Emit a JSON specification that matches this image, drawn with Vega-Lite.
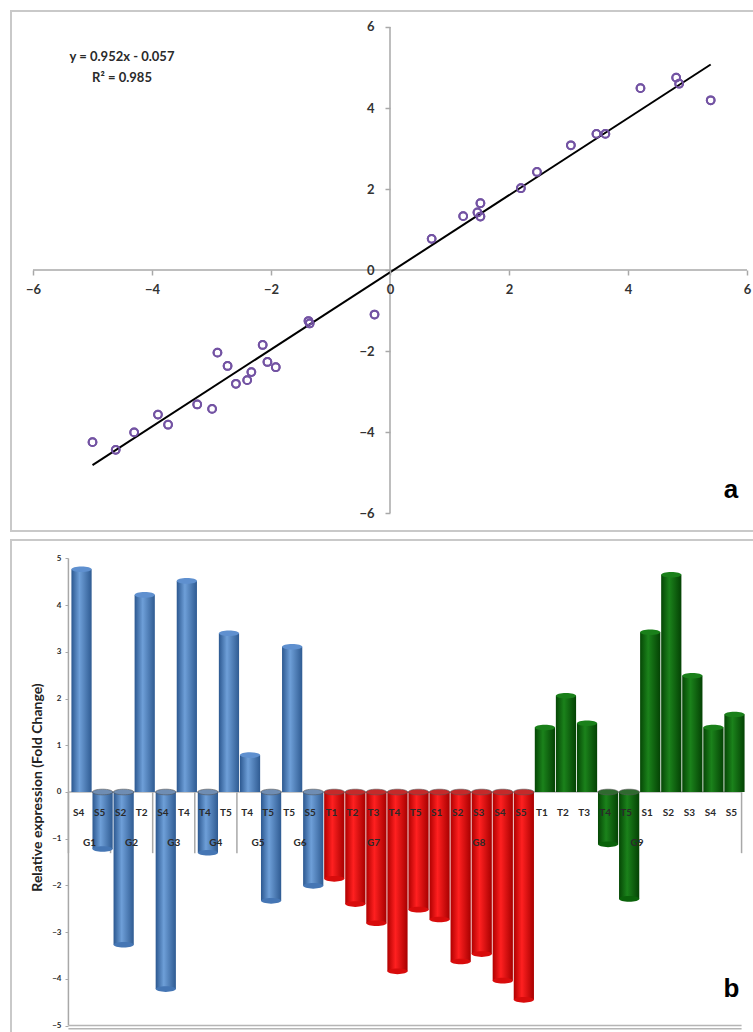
{
  "$schema": "https://vega.github.io/schema/vega-lite/v6.json",
  "padding": {"left": 10, "top": 10, "right": 0, "bottom": 0},
  "background": "white",
  "config": {
    "font": "Lato",
    "view": {"stroke": "#c9c9c9", "strokeWidth": 2},
    "axis": {"labelFont": "Lato", "titleFont": "Lato", "grid": false}
  },
  "datasets": {
    "points": [
      {"x": -5.00, "y": -4.25}, {"x": -4.61, "y": -4.44}, {"x": -4.30, "y": -4.01},
      {"x": -3.90, "y": -3.57}, {"x": -3.73, "y": -3.82}, {"x": -3.24, "y": -3.32},
      {"x": -2.99, "y": -3.43}, {"x": -2.90, "y": -2.04}, {"x": -2.73, "y": -2.37},
      {"x": -2.59, "y": -2.81}, {"x": -2.40, "y": -2.72}, {"x": -2.33, "y": -2.52},
      {"x": -2.14, "y": -1.85}, {"x": -2.06, "y": -2.27}, {"x": -1.92, "y": -2.40},
      {"x": -1.37, "y": -1.26}, {"x": -1.35, "y": -1.32}, {"x": -0.26, "y": -1.10},
      {"x": 0.70, "y": 0.77}, {"x": 1.23, "y": 1.33}, {"x": 1.47, "y": 1.42},
      {"x": 1.52, "y": 1.65}, {"x": 1.52, "y": 1.32}, {"x": 2.20, "y": 2.02},
      {"x": 2.47, "y": 2.42}, {"x": 3.04, "y": 3.08}, {"x": 3.47, "y": 3.36},
      {"x": 3.62, "y": 3.36}, {"x": 4.21, "y": 4.49}, {"x": 4.81, "y": 4.75},
      {"x": 4.86, "y": 4.60}, {"x": 5.39, "y": 4.19}
    ],
    "fit": [{"x": -5.0, "y": -4.817}, {"x": 5.39, "y": 5.074}],
    "bars": [
      {"key": "G1|S4", "group": "G1", "value": 4.77},
      {"key": "G1|S5", "group": "G1", "value": -1.22},
      {"key": "G2|S2", "group": "G2", "value": -3.27},
      {"key": "G2|T2", "group": "G2", "value": 4.22},
      {"key": "G3|S4", "group": "G3", "value": -4.22},
      {"key": "G3|T4", "group": "G3", "value": 4.52},
      {"key": "G4|T4", "group": "G4", "value": -1.30},
      {"key": "G4|T5", "group": "G4", "value": 3.40},
      {"key": "G5|T4", "group": "G5", "value": 0.79},
      {"key": "G5|T5", "group": "G5", "value": -2.33},
      {"key": "G6|T5", "group": "G6", "value": 3.11},
      {"key": "G6|S5", "group": "G6", "value": -2.01},
      {"key": "G7|T1", "group": "G7", "value": -1.86},
      {"key": "G7|T2", "group": "G7", "value": -2.40},
      {"key": "G7|T3", "group": "G7", "value": -2.81},
      {"key": "G7|T4", "group": "G7", "value": -3.84},
      {"key": "G7|T5", "group": "G7", "value": -2.52},
      {"key": "G8|S1", "group": "G8", "value": -2.73},
      {"key": "G8|S2", "group": "G8", "value": -3.63},
      {"key": "G8|S3", "group": "G8", "value": -3.47},
      {"key": "G8|S4", "group": "G8", "value": -4.04},
      {"key": "G8|S5", "group": "G8", "value": -4.45},
      {"key": "G9|T1", "group": "G9", "value": 1.38},
      {"key": "G9|T2", "group": "G9", "value": 2.06},
      {"key": "G9|T3", "group": "G9", "value": 1.47},
      {"key": "G9|T4", "group": "G9", "value": -1.12},
      {"key": "G9|T5", "group": "G9", "value": -2.29},
      {"key": "G9|S1", "group": "G9", "value": 3.42},
      {"key": "G9|S2", "group": "G9", "value": 4.65},
      {"key": "G9|S3", "group": "G9", "value": 2.49},
      {"key": "G9|S4", "group": "G9", "value": 1.38},
      {"key": "G9|S5", "group": "G9", "value": 1.66}
    ],
    "groups": [
      {"group": "G1", "first": "G1|S4", "anchor": "G1|S5"},
      {"group": "G2", "first": "G2|S2", "anchor": "G2|T2"},
      {"group": "G3", "first": "G3|S4", "anchor": "G3|T4"},
      {"group": "G4", "first": "G4|T4", "anchor": "G4|T5"},
      {"group": "G5", "first": "G5|T4", "anchor": "G5|T5"},
      {"group": "G6", "first": "G6|T5", "anchor": "G6|S5"},
      {"group": "G7", "first": "G7|T1", "anchor": "G7|T3"},
      {"group": "G8", "first": "G8|S1", "anchor": "G8|S3"},
      {"group": "G9", "first": "G9|T1", "anchor": "G9|S1"}
    ]
  },
  "spacing": 9,
  "bounds": "flush",
  "vconcat": [
    {
      "width": 743,
      "height": 520,
      "layer": [
        {
          "data": {"name": "points"},
          "mark": {"type": "point", "shape": "circle", "filled": false, "stroke": "#7353a3", "strokeWidth": 2, "size": 60, "opacity": 1},
          "encoding": {
            "x": {"field": "x", "type": "quantitative", "title": null,
              "scale": {"domain": [-6.37, 6.118], "nice": false, "zero": false},
              "axis": {"orient": "bottom", "offset": -261, "values": [-6, -4, -2, 0, 2, 4, 6], "format": "d", "domain": false, "tickSize": 5, "tickColor": "#a8a8a8", "tickWidth": 1.5, "labelPadding": 8, "labelFontWeight": "bold", "labelFontSize": 13, "labelColor": "#333333", "labelFlush": false, "labelOverlap": false, "title": null, "zindex": 1}},
            "y": {"field": "y", "type": "quantitative", "title": null,
              "scale": {"domain": [-6.444, 6.395], "nice": false, "zero": false},
              "axis": {"orient": "left", "offset": -379, "values": [-6, -4, -2, 0, 2, 4, 6], "format": "d", "domain": false, "tickSize": 5, "tickColor": "#a8a8a8", "tickWidth": 1.5, "labelPadding": 11, "labelFontWeight": "bold", "labelFontSize": 13, "labelColor": "#333333", "labelFlush": false, "labelOverlap": false, "title": null, "zindex": 1}}
          }
        },
        {
          "data": {"values": [{}]},
          "mark": {"type": "rule", "color": "#a8a8a8", "strokeWidth": 1.5},
          "encoding": {
            "x": {"datum": -6, "type": "quantitative"},
            "x2": {"datum": 6},
            "y": {"datum": 0, "type": "quantitative"}
          }
        },
        {
          "data": {"values": [{}]},
          "mark": {"type": "rule", "color": "#a8a8a8", "strokeWidth": 1.5},
          "encoding": {
            "y": {"datum": -6, "type": "quantitative"},
            "y2": {"datum": 6},
            "x": {"datum": 0, "type": "quantitative"}
          }
        },
        {
          "data": {"name": "fit"},
          "mark": {"type": "line", "color": "#000000", "strokeWidth": 2},
          "encoding": {
            "x": {"field": "x", "type": "quantitative"},
            "y": {"field": "y", "type": "quantitative"}
          }
        },
        {
          "data": {"name": "points"},
          "mark": {"type": "point", "shape": "circle", "filled": false, "stroke": "#7353a3", "strokeWidth": 2, "size": 60, "opacity": 1},
          "encoding": {
            "x": {"field": "x", "type": "quantitative"},
            "y": {"field": "y", "type": "quantitative"}
          }
        },
        {
          "data": {"values": [{"t": "y = 0.952x - 0.057"}]},
          "mark": {"type": "text", "font": "Lato", "fontWeight": "bold", "fontSize": 13, "color": "#2a2a2a", "align": "center", "baseline": "middle"},
          "encoding": {
            "x": {"datum": -4.504, "type": "quantitative"},
            "y": {"datum": 5.259, "type": "quantitative"},
            "text": {"field": "t"}
          }
        },
        {
          "data": {"values": [{"t": "R² = 0.985"}]},
          "mark": {"type": "text", "font": "Lato", "fontWeight": "bold", "fontSize": 13, "color": "#2a2a2a", "align": "center", "baseline": "middle"},
          "encoding": {
            "x": {"datum": -4.504, "type": "quantitative"},
            "y": {"datum": 4.741, "type": "quantitative"},
            "text": {"field": "t"}
          }
        },
        {
          "data": {"values": [{"t": "a"}]},
          "mark": {"type": "text", "font": "Liberation Sans", "fontWeight": "bold", "fontSize": 26, "color": "#000000", "align": "center", "baseline": "alphabetic"},
          "encoding": {
            "x": {"datum": 5.73, "type": "quantitative"},
            "y": {"datum": -5.63, "type": "quantitative"},
            "text": {"field": "t"}
          }
        }
      ]
    },
    {
      "width": 743,
      "height": 494,
      "resolve": {"scale": {"color": "independent"}},
      "layer": [
        {
          "data": {"name": "groups"},
          "mark": {"type": "rule", "color": "#a8a8a8", "strokeWidth": 1.5},
          "encoding": {
            "x": {"field": "first", "type": "nominal", "bandPosition": 0, "title": null,
              "scale": {"type": "band",
                "domain": ["G1|S4","G1|S5","G2|S2","G2|T2","G3|S4","G3|T4","G4|T4","G4|T5","G5|T4","G5|T5","G6|T5","G6|S5","G7|T1","G7|T2","G7|T3","G7|T4","G7|T5","G8|S1","G8|S2","G8|S3","G8|S4","G8|S5","G9|T1","G9|T2","G9|T3","G9|T4","G9|T5","G9|S1","G9|S2","G9|S3","G9|S4","G9|S5"],
                "range": [57, 731], "paddingInner": 0.04, "paddingOuter": 0.02, "align": 0.5},
              "axis": {"orient": "bottom", "offset": -242, "domain": false, "ticks": false, "labelAngle": 0, "labelPadding": 15, "labelFontSize": 10, "labelFontWeight": "bold", "labelColor": "#2a2a2a", "labelExpr": "split(datum.value, '|')[1]", "labelOverlap": false, "title": null, "zindex": 1}},
            "y": {"datum": 0, "type": "quantitative", "title": "Relative expression (Fold Change)",
              "scale": {"domain": [-5.182, 5.396], "nice": false, "zero": false},
              "axis": {"orient": "left", "offset": -57, "values": [-5, -4, -3, -2, -1, 0, 1, 2, 3, 4, 5], "format": "d", "domain": false, "tickSize": 3, "tickColor": "#a8a8a8", "labelFontSize": 8, "labelFontWeight": "bold", "labelColor": "#2a2a2a", "labelPadding": 4, "labelFlush": false, "labelOverlap": false, "title": "Relative expression (Fold Change)", "titleFontSize": 14, "titleFontWeight": "bold", "titleColor": "#222222", "titlePadding": 7, "zindex": 1}},
            "y2": {"datum": -1.31}
          }
        },
        {
          "data": {"values": [{}]},
          "mark": {"type": "rule", "color": "#a8a8a8", "strokeWidth": 1.5},
          "encoding": {
            "x": {"datum": "G9|S5", "type": "nominal", "bandPosition": 1},
            "y": {"datum": 0, "type": "quantitative"},
            "y2": {"datum": -1.31}
          }
        },
        {
          "data": {"values": [{}]},
          "mark": {"type": "rule", "color": "#a8a8a8", "strokeWidth": 1.5},
          "encoding": {
            "x": {"datum": "G1|S4", "type": "nominal", "bandPosition": 0},
            "y": {"datum": 5, "type": "quantitative"},
            "y2": {"datum": -5}
          }
        },
        {
          "data": {"values": [{"lvl": 0}, {"lvl": -5}, {"lvl": -5.07}]},
          "mark": {"type": "rule", "color": "#b5b5b5", "strokeWidth": 1.5},
          "encoding": {
            "x": {"datum": "G1|S4", "type": "nominal", "bandPosition": 0},
            "x2": {"datum": "G9|S5", "bandPosition": 1},
            "y": {"field": "lvl", "type": "quantitative"}
          }
        },
        {
          "data": {"name": "bars"},
          "transform": [{"filter": {"field": "group", "oneOf": ["G1", "G2", "G3", "G4", "G5", "G6"]}}],
          "mark": {"type": "bar", "xOffset": 3,
            "fill": {"gradient": "linear", "x1": 0, "x2": 1, "y1": 0, "y2": 0,
              "stops": [{"offset": 0, "color": "#2c5890"}, {"offset": 0.4, "color": "#6e9fd8"}, {"offset": 1, "color": "#2f5b92"}]}},
          "encoding": {
            "x": {"field": "key", "type": "nominal"},
            "y": {"field": "value", "type": "quantitative"}
          }
        },
        {
          "data": {"name": "bars"},
          "transform": [{"filter": {"field": "group", "oneOf": ["G7", "G8"]}}],
          "mark": {"type": "bar", "xOffset": 3,
            "fill": {"gradient": "linear", "x1": 0, "x2": 1, "y1": 0, "y2": 0,
              "stops": [{"offset": 0, "color": "#b00000"}, {"offset": 0.4, "color": "#ff2020"}, {"offset": 1, "color": "#a80000"}]}},
          "encoding": {
            "x": {"field": "key", "type": "nominal"},
            "y": {"field": "value", "type": "quantitative"}
          }
        },
        {
          "data": {"name": "bars"},
          "transform": [{"filter": {"field": "group", "oneOf": ["G9"]}}],
          "mark": {"type": "bar", "xOffset": 3,
            "fill": {"gradient": "linear", "x1": 0, "x2": 1, "y1": 0, "y2": 0,
              "stops": [{"offset": 0, "color": "#054705"}, {"offset": 0.4, "color": "#1b821b"}, {"offset": 1, "color": "#044204"}]}},
          "encoding": {
            "x": {"field": "key", "type": "nominal"},
            "y": {"field": "value", "type": "quantitative"}
          }
        },
        {
          "data": {"name": "bars"},
          "transform": [{"filter": "datum.value < 0"}],
          "mark": {"type": "point", "xOffset": 3, "filled": true, "opacity": 1, "size": 408,
            "shape": "M -1 0 A 1 0.28 0 1 1 1 0 A 1 0.28 0 1 1 -1 0 Z"},
          "encoding": {
            "x": {"field": "key", "type": "nominal"},
            "y": {"field": "value", "type": "quantitative"},
            "color": {"field": "group", "type": "nominal", "legend": null,
              "scale": {"domain": ["G1","G2","G3","G4","G5","G6","G7","G8","G9"], "range": ["#4576b4","#4576b4","#4576b4","#4576b4","#4576b4","#4576b4","#d80c0c","#d80c0c","#0a620a"]}}
          }
        },
        {
          "data": {"name": "bars"},
          "transform": [{"filter": "datum.value < 0"}],
          "mark": {"type": "point", "xOffset": 3, "filled": true, "opacity": 1, "size": 408, "stroke": "#555555", "strokeWidth": 0.6,
            "shape": "M -1 0 A 1 0.28 0 1 1 1 0 A 1 0.28 0 1 1 -1 0 Z"},
          "encoding": {
            "x": {"field": "key", "type": "nominal"},
            "y": {"datum": 0, "type": "quantitative"},
            "color": {"field": "group", "type": "nominal", "legend": null,
              "scale": {"domain": ["G1","G2","G3","G4","G5","G6","G7","G8","G9"], "range": ["#6f8db3","#6f8db3","#6f8db3","#6f8db3","#6f8db3","#6f8db3","#c42a2a","#c42a2a","#2f6a2f"]}}
          }
        },
        {
          "data": {"name": "bars"},
          "transform": [{"filter": "datum.value > 0"}],
          "mark": {"type": "point", "xOffset": 3, "filled": true, "opacity": 1, "size": 408, "strokeWidth": 0.8,
            "shape": "M -1 0 A 1 0.28 0 1 1 1 0 A 1 0.28 0 1 1 -1 0 Z"},
          "encoding": {
            "x": {"field": "key", "type": "nominal"},
            "y": {"field": "value", "type": "quantitative"},
            "color": {"field": "group", "type": "nominal", "legend": null,
              "scale": {"domain": ["G1","G2","G3","G4","G5","G6","G7","G8","G9"], "range": ["#5f90cf","#5f90cf","#5f90cf","#5f90cf","#5f90cf","#5f90cf","#f03030","#f03030","#1a801a"]}}
          }
        },
        {
          "data": {"name": "groups"},
          "transform": [{"filter": {"not": {"field": "group", "oneOf": ["G7", "G8"]}}}],
          "mark": {"type": "text", "font": "Lato", "fontWeight": "bold", "fontSize": 10, "color": "#2a2a2a", "align": "center", "baseline": "middle"},
          "encoding": {
            "x": {"field": "anchor", "type": "nominal", "bandPosition": 0},
            "y": {"datum": -1.09, "type": "quantitative"},
            "text": {"field": "group"}
          }
        },
        {
          "data": {"name": "groups"},
          "transform": [{"filter": {"field": "group", "oneOf": ["G7", "G8"]}}],
          "mark": {"type": "text", "font": "Lato", "fontWeight": "bold", "fontSize": 10, "color": "#2a2a2a", "align": "center", "baseline": "middle"},
          "encoding": {
            "x": {"field": "anchor", "type": "nominal"},
            "y": {"datum": -1.09, "type": "quantitative"},
            "text": {"field": "group"}
          }
        },
        {
          "data": {"values": [{"t": "b"}]},
          "mark": {"type": "text", "font": "Liberation Sans", "fontWeight": "bold", "fontSize": 26, "color": "#000000", "align": "center", "baseline": "alphabetic"},
          "encoding": {
            "x": {"datum": "G9|S5", "type": "nominal"},
            "y": {"datum": -4.39, "type": "quantitative"},
            "text": {"field": "t"}
          }
        }
      ]
    }
  ]
}
